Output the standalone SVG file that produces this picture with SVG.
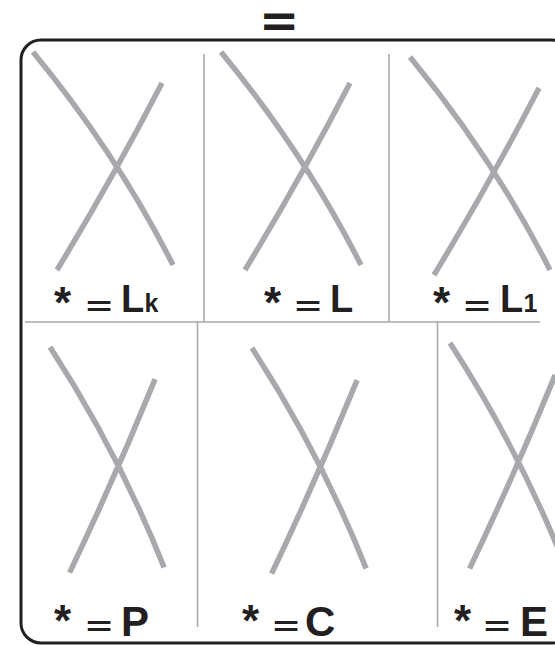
<svg xmlns="http://www.w3.org/2000/svg" width="555" height="646" viewBox="0 0 555 646">
<style>
.bg{fill:#ffffff}
.frame{fill:none;stroke:#231f20;stroke-width:3}
.div{stroke:#a7a9ac;stroke-width:1.6;fill:none}
.x{fill:none;stroke:#a7a9ac;stroke-width:5.5;stroke-linecap:butt}
.lab{font-family:"Liberation Sans",Arial,sans-serif;font-weight:bold;fill:#231f20}
.ast{font-size:44px}
.eq{font-family:"DejaVu Sans",sans-serif;font-weight:normal;font-size:36px}
.big{font-size:38px}
.sub{font-size:25px}
.big2{font-size:42px}
.top{font-family:"DejaVu Sans",sans-serif;font-weight:bold;font-size:48px;fill:#231f20}
</style>
<rect class="bg" x="0" y="0" width="555" height="646"/>
<text id="equals-sign" class="top" x="259" y="37">=</text>
<rect id="frame" class="frame" x="21" y="40" width="551" height="603" rx="20" ry="20"/>
<g id="dividers">
<line class="div" x1="204" y1="54" x2="204" y2="322"/>
<line class="div" x1="389" y1="54" x2="389" y2="322"/>
<line class="div" x1="25" y1="322" x2="540" y2="322"/>
<line class="div" x1="197.5" y1="322" x2="197.5" y2="627"/>
<line class="div" x1="437.5" y1="322" x2="437.5" y2="627"/>
</g>
<g id="panel-Lk">
<path class="x" d="M33,52 Q117,154 173,265"/>
<path class="x" d="M162,83 Q114,176 57,270"/>
<text class="lab"><tspan class="ast" x="54" y="318">*</tspan><tspan class="eq" x="84" y="317">=</tspan><tspan class="big" x="121" y="312">L</tspan><tspan class="sub" x="144.5" y="312">k</tspan></text>
</g>
<g id="panel-L">
<path class="x" d="M221,52 Q305,154 361,265"/>
<path class="x" d="M350,83 Q302,176 245,270"/>
<text class="lab"><tspan class="ast" x="264" y="318">*</tspan><tspan class="eq" x="293" y="317">=</tspan><tspan class="big" x="330" y="312">L</tspan></text>
</g>
<g id="panel-L1">
<path class="x" d="M410,57 Q494,159 550,270"/>
<path class="x" d="M539,88 Q491,181 434,275"/>
<text class="lab"><tspan class="ast" x="433" y="318">*</tspan><tspan class="eq" x="462" y="317">=</tspan><tspan class="big" x="500" y="312">L</tspan><tspan class="sub" x="523.5" y="312">1</tspan></text>
</g>
<g id="panel-P">
<path class="x" d="M50,347 Q118.5,452.6 164.1,567.5"/>
<path class="x" d="M155.1,379.1 Q116,475.3 69.6,572.6"/>
<text class="lab"><tspan class="ast" x="54" y="636">*</tspan><tspan class="eq" x="84" y="637">=</tspan><tspan class="big2" x="121" y="636">P</tspan></text>
</g>
<g id="panel-C">
<path class="x" d="M252,348 Q320.5,453.6 366.1,568.5"/>
<path class="x" d="M357.1,380.1 Q318,476.3 271.6,573.6"/>
<text class="lab"><tspan class="ast" x="242" y="636">*</tspan><tspan class="eq" x="271" y="637">=</tspan><tspan class="big2" x="305" y="636">C</tspan></text>
</g>
<g id="panel-E">
<path class="x" d="M450,343 Q518.5,448.6 564.1,563.5"/>
<path class="x" d="M555.1,375.1 Q516,471.3 469.6,568.6"/>
<text class="lab"><tspan class="ast" x="454" y="636">*</tspan><tspan class="eq" x="482" y="637">=</tspan><tspan class="big2" x="520" y="636">E</tspan></text>
</g>
</svg>
